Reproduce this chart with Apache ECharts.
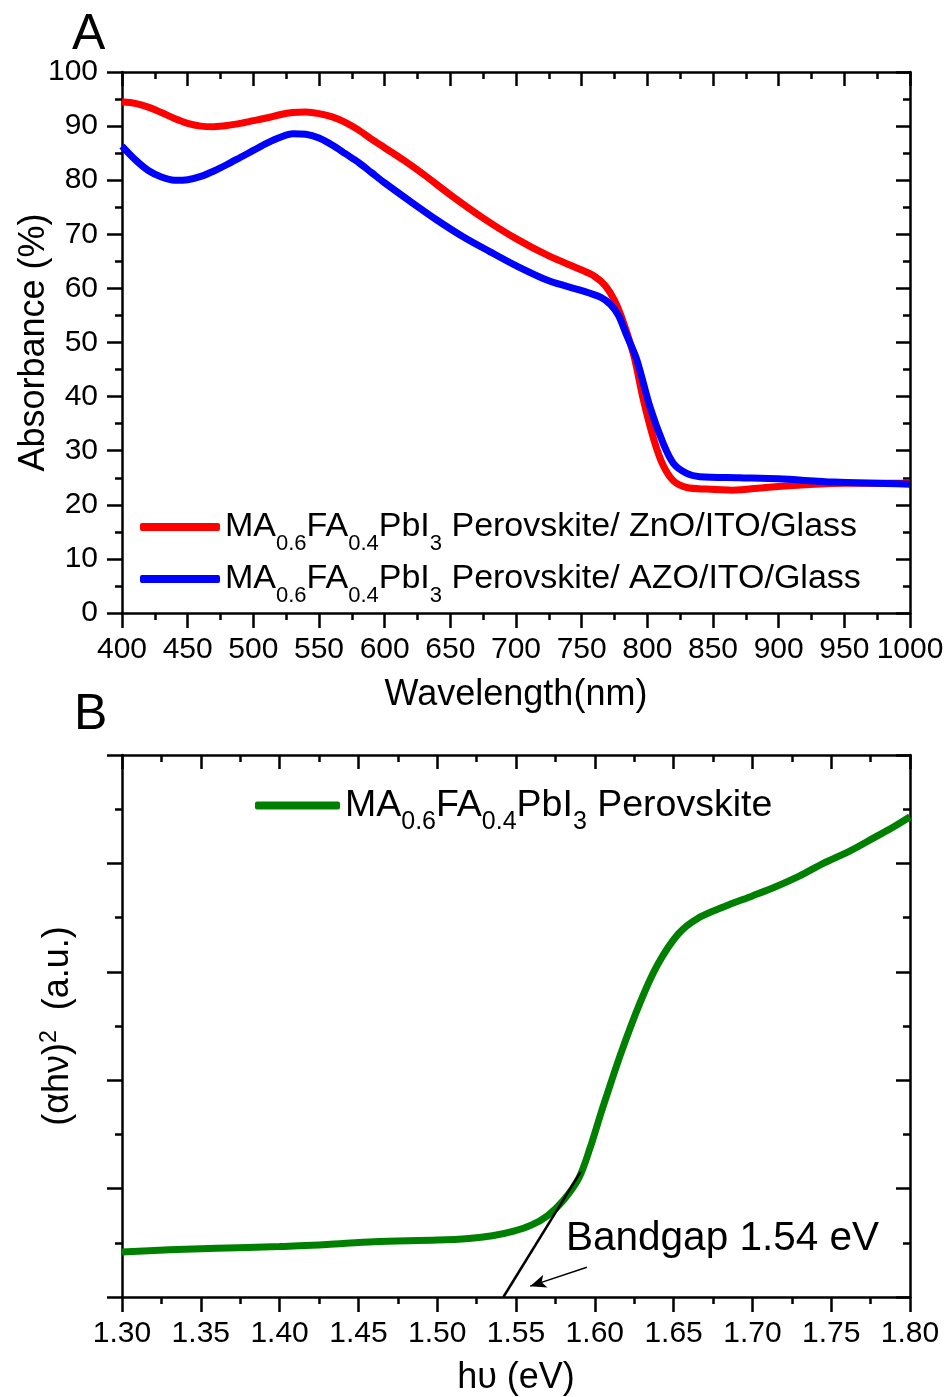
<!DOCTYPE html>
<html>
<head>
<meta charset="utf-8">
<script src="https://cdn.jsdelivr.net/npm/echarts@6/dist/echarts.min.js"></script>
<style>
  html, body { margin: 0; padding: 0; background: #fff; }
  #chart { width: 948px; height: 1397px; }
</style>
</head>
<body>
<div id="chart"></div>
<script>
// Panel A: absorbance spectra
const wlZnO = [400, 410, 420, 430, 440, 450, 460, 470, 480, 490, 500, 510, 520, 530, 540, 550, 560, 570, 580, 590, 600, 615, 630, 650, 675, 700, 725, 750, 760, 768, 775, 782, 790, 797, 805, 812, 820, 830, 845, 865, 890, 920, 950, 1000];
const absZnO = [94.5, 94.2, 93.5, 92.5, 91.4, 90.5, 90.0, 89.9, 90.1, 90.5, 91.0, 91.5, 92.1, 92.5, 92.6, 92.3, 91.7, 90.7, 89.3, 87.6, 86.0, 83.6, 81.0, 77.3, 73.0, 69.2, 66.0, 63.4, 62.2, 60.5, 57.8, 53.6, 47.3, 39.4, 32.0, 27.3, 24.4, 23.2, 22.9, 22.7, 23.2, 23.7, 24.0, 24.0];
const wlAZO = [400, 410, 420, 430, 440, 450, 460, 470, 480, 490, 500, 510, 520, 530, 540, 550, 560, 570, 580, 590, 600, 620, 640, 660, 680, 700, 725, 750, 765, 772, 778, 784, 792, 802, 812, 820, 830, 840, 870, 900, 942, 1000];
const absAZO = [86.3, 83.8, 81.8, 80.6, 80.0, 80.1, 80.7, 81.7, 82.9, 84.2, 85.5, 86.8, 87.9, 88.6, 88.5, 87.8, 86.5, 84.9, 83.3, 81.4, 79.5, 76.0, 72.6, 69.5, 66.8, 64.2, 61.4, 59.6, 58.3, 57.0, 55.0, 51.5, 46.8, 38.1, 31.4, 27.6, 25.8, 25.2, 25.0, 24.8, 24.2, 23.8];

// Panel B: Tauc plot
const hv = [1.30, 1.33, 1.36, 1.40, 1.43, 1.46, 1.50, 1.52, 1.535, 1.548, 1.56, 1.57, 1.58, 1.59, 1.597, 1.604, 1.616, 1.629, 1.64, 1.653, 1.665, 1.682, 1.70, 1.714, 1.73, 1.745, 1.762, 1.777, 1.79, 1.80];
const ahv2 = [0.83, 0.87, 0.90, 0.93, 0.97, 1.02, 1.05, 1.08, 1.13, 1.21, 1.33, 1.50, 1.78, 2.20, 2.75, 3.40, 4.45, 5.45, 6.14, 6.70, 6.98, 7.20, 7.40, 7.56, 7.77, 8.00, 8.23, 8.47, 8.68, 8.86];
const tangentHv = [1.542, 1.591];
const tangentVal = [0, 2.31];
const arrowFrom = [1.595, 0.55];
const arrowTo = [1.559, 0.20];

const nameZnO = 'MA0.6FA0.4PbI3 Perovskite/ ZnO/ITO/Glass';
const nameAZO = 'MA0.6FA0.4PbI3 Perovskite/ AZO/ITO/Glass';
const nameGreen = 'MA0.6FA0.4PbI3 Perovskite';

const FONT = "'Liberation Sans', Arial, sans-serif";
const zip = (xs, ys) => xs.map((x, i) => [x, ys[i]]);

const richName = (rest) => '{m|MA}{s|0.6}{m|FA}{s|0.4}{m|PbI}{s|3}{m|' + rest + '}';

function frameAxes(grid, min, max, interval, opts) {
  const line = { show: true, onZero: false, lineStyle: { color: '#000', width: 2.5 } };
  const common = {
    gridIndex: grid, type: 'value', min: min, max: max, interval: interval,
    axisLine: line, splitLine: { show: false },
    minorTick: { show: true, splitNumber: 2, length: 7, lineStyle: { color: '#000', width: 2.5 } }
  };
  return [
    Object.assign({}, common, {
      position: opts.pos1,
      axisTick: { inside: false, length: 15, lineStyle: { color: '#000', width: 2.5 } },
      axisLabel: Object.assign({ color: '#000', fontSize: 30, fontFamily: FONT }, opts.label),
      name: opts.name, nameLocation: 'middle', nameGap: opts.nameGap, nameRotate: opts.nameRotate,
      nameMoveOverlap: false,
      nameTextStyle: opts.nameTextStyle
    }),
    Object.assign({}, common, {
      position: opts.pos2,
      axisTick: { inside: true, length: 14, lineStyle: { color: '#000', width: 2.5 } },
      axisLabel: { show: false }
    })
  ];
}

const chart = echarts.init(document.getElementById('chart'));

const xA = frameAxes(0, 400, 1000, 50, {
  pos1: 'bottom', pos2: 'top', label: { margin: 22, formatter: v => String(v) },
  name: 'Wavelength(nm)', nameGap: 64,
  nameTextStyle: { color: '#000', fontSize: 36, fontFamily: FONT }
});
const yA = frameAxes(0, 0, 100, 10, {
  pos1: 'left', pos2: 'right', label: { margin: 24, formatter: v => String(v) },
  name: 'Absorbance (%)', nameGap: 70, nameRotate: 90,
  nameTextStyle: { color: '#000', fontSize: 36, fontFamily: FONT }
});
const xB = frameAxes(1, 1.30, 1.80, 0.05, {
  pos1: 'bottom', pos2: 'top', label: { margin: 22, formatter: v => v.toFixed(2) },
  name: 'hυ (eV)', nameGap: 63,
  nameTextStyle: { color: '#000', fontSize: 36, fontFamily: FONT }
});
const yB = frameAxes(1, 0, 10, 2, {
  pos1: 'left', pos2: 'right', label: { show: false },
  name: '{t|(αhν)}{p|2}{t|  (a.u.)}', nameGap: 44, nameRotate: 90,
  nameTextStyle: {
    color: '#000', fontSize: 36, fontFamily: FONT,
    rich: {
      t: { fontSize: 36, fontFamily: FONT, color: '#000', lineHeight: 40 },
      p: { fontSize: 23, fontFamily: FONT, color: '#000', lineHeight: 10, verticalAlign: 'top' }
    }
  }
});

// subscripts pushed down with top padding
const legendRich = (main, sub, drop) => ({
  m: { fontSize: main, fontFamily: FONT, color: '#000', lineHeight: main + 6 },
  s: { fontSize: sub, fontFamily: FONT, color: '#000', lineHeight: sub, padding: [drop * 2, 0, 0, 0] }
});

chart.setOption({
  animation: false,
  backgroundColor: '#fff',
  grid: [
    { left: 122, right: 38, top: 72, height: 541, outerBoundsMode: 'none', containLabel: false },
    { left: 122, right: 38, top: 755, height: 542, outerBoundsMode: 'none', containLabel: false }
  ],
  xAxis: [xA[0], xA[1], xB[0], xB[1]],
  yAxis: [yA[0], yA[1], yB[0], yB[1]],
  legend: [
    {
      data: [nameZnO, nameAZO], orient: 'vertical', left: 140, top: 499,
      itemWidth: 80, itemHeight: 8, itemGap: -4, icon: 'roundRect', padding: 0,
      formatter: n => richName(n === nameZnO ? ' Perovskite/ ZnO/ITO/Glass' : ' Perovskite/ AZO/ITO/Glass'),
      textStyle: { rich: legendRich(34, 22, 17) }
    },
    {
      data: [nameGreen], orient: 'vertical', left: 255, top: 776, padding: 0,
      itemWidth: 85, itemHeight: 8, icon: 'roundRect',
      formatter: () => richName(' Perovskite'),
      textStyle: { rich: legendRich(37.5, 25, 17) }
    }
  ],
  graphic: [
    { type: 'text', left: 72, top: 10, style: { text: 'A', fontSize: 50, fontFamily: FONT, fill: '#000' } },
    { type: 'text', left: 74, top: 690, style: { text: 'B', fontSize: 50, fontFamily: FONT, fill: '#000' } },
    { type: 'text', left: 566, top: 1218, style: { text: 'Bandgap 1.54 eV', fontSize: 40.5, fontFamily: FONT, fill: '#000' } }
  ],
  series: [
    {
      name: nameZnO, type: 'line', xAxisIndex: 0, yAxisIndex: 0, data: zip(wlZnO, absZnO),
      smooth: 0.3, showSymbol: false, lineStyle: { color: '#ff0000', width: 7 }, itemStyle: { color: '#ff0000' }
    },
    {
      name: nameAZO, type: 'line', xAxisIndex: 0, yAxisIndex: 0, data: zip(wlAZO, absAZO),
      smooth: 0.3, showSymbol: false, lineStyle: { color: '#0000ff', width: 7 }, itemStyle: { color: '#0000ff' }
    },
    {
      name: nameGreen, type: 'line', xAxisIndex: 2, yAxisIndex: 2, data: zip(hv, ahv2),
      smooth: 0.3, showSymbol: false, lineStyle: { color: '#008000', width: 7 }, itemStyle: { color: '#008000' }
    },
    {
      name: 'tangent', type: 'line', xAxisIndex: 2, yAxisIndex: 2, data: zip(tangentHv, tangentVal),
      showSymbol: false, lineStyle: { color: '#000', width: 2.5 }, z: 5,
      markLine: {
        silent: true, symbol: ['none', 'arrow'], symbolSize: [10, 16],
        label: { show: false },
        lineStyle: { color: '#000', width: 1.5, type: 'solid' },
        data: [[{ coord: arrowFrom }, { coord: arrowTo }]]
      }
    }
  ]
});
</script>
</body>
</html>
